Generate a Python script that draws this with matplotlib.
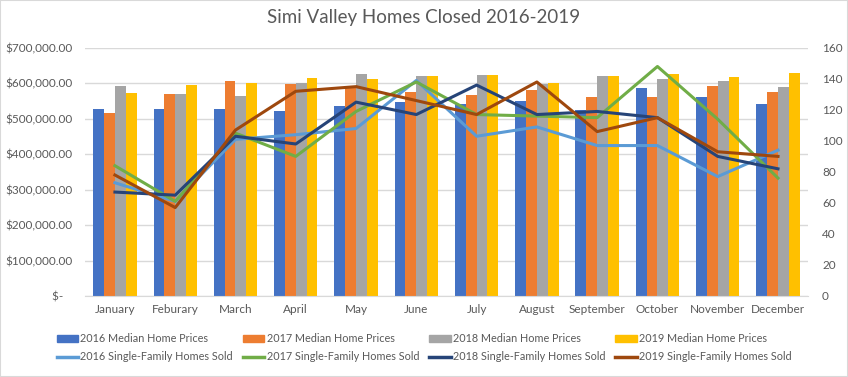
import matplotlib
matplotlib.use("Agg")
import matplotlib.pyplot as plt
import matplotlib.patches as mpatches
from matplotlib.lines import Line2D
from matplotlib.ticker import FuncFormatter, MultipleLocator
import numpy as np

plt.rcParams['font.family'] = ['Lato', 'DejaVu Sans']

months = ["January", "Feburary", "March", "April", "May", "June", "July",
          "August", "September", "October", "November", "December"]

# median home prices ($)
price_2016 = [528000, 528000, 528000, 523000, 537000, 548000, 543000, 551000, 526000, 588000, 562000, 543000]
price_2017 = [517000, 571000, 607000, 599000, 593000, 576000, 568000, 582000, 560000, 560000, 593000, 576000]
price_2018 = [593000, 571000, 565000, 602000, 627000, 622000, 624000, 599000, 622000, 613000, 607000, 591000]
price_2019 = [574000, 596000, 602000, 616000, 613000, 622000, 624000, 602000, 622000, 627000, 619000, 630000]

# single-family homes sold
sold_2016 = [73, 61, 101, 104, 108, 139, 103, 109, 97, 97, 77, 94]
sold_2017 = [84, 61, 105, 90, 119, 138, 117, 116, 115, 148, 114, 76]
sold_2018 = [67, 65, 103, 98, 125, 117, 136, 117, 119, 115, 90, 82]
sold_2019 = [78, 57, 107, 132, 135, 126, 117, 138, 106, 115, 93, 90]

bar_colors = ["#4472C4", "#ED7D31", "#A5A5A5", "#FFC000"]
line_colors = ["#5B9BD5", "#70AD47", "#264478", "#9E480E"]
years = ["2016", "2017", "2018", "2019"]
txt = "#595959"

fig = plt.figure(figsize=(8.48, 3.77), dpi=100)
ax = fig.add_axes([0.100, 0.215, 0.853, 0.658])
ax2 = ax.twinx()

x = np.arange(len(months))
w = 0.18
prices = [price_2016, price_2017, price_2018, price_2019]
solds = [sold_2016, sold_2017, sold_2018, sold_2019]

for i, (vals, c) in enumerate(zip(prices, bar_colors)):
    ax.bar(x + (i - 1.5) * w, vals, w, color=c, zorder=2)

for vals, c in zip(solds, line_colors):
    ax2.plot(x, vals, color=c, lw=2.2, zorder=3)

ax.set_xlim(-0.5, 11.5)
ax.set_ylim(0, 700000)
ax.yaxis.set_major_locator(MultipleLocator(100000))
ax.yaxis.set_major_formatter(FuncFormatter(lambda v, p: "$-   " if v == 0 else "${:,.2f}".format(v)))
ax.grid(axis='y', color="#D9D9D9", lw=1, zorder=0)
ax.set_axisbelow(True)
ax.set_xticks(x)
ax.set_xticklabels(months)
ax.tick_params(axis='both', length=0, labelsize=8.5, colors=txt, pad=6)
ax.tick_params(axis='y', pad=9)
for s in ["top", "right", "left"]:
    ax.spines[s].set_visible(False)
ax.spines["bottom"].set_color("#D9D9D9")

ax2.set_ylim(0, 160)
ax2.yaxis.set_major_locator(MultipleLocator(20))
ax2.tick_params(axis='y', length=0, labelsize=8.5, colors=txt, pad=10)
for s in ["top", "right", "left", "bottom"]:
    ax2.spines[s].set_visible(False)

fig.suptitle("Simi Valley Homes Closed 2016-2019", y=0.975, fontsize=13.5, color=txt)

handles = []
labels = []
for i in range(4):
    handles.append(mpatches.Patch(color=bar_colors[i]))
    labels.append(years[i] + " Median Home Prices")
    handles.append(Line2D([], [], color=line_colors[i], lw=2.5))
    labels.append(years[i] + " Single-Family Homes Sold")
leg = fig.legend(handles, labels, ncol=4, loc="center", bbox_to_anchor=(0.5, 0.077),
                 frameon=False, fontsize=7.8, handlelength=2.0, handleheight=0.7,
                 handletextpad=0.2, columnspacing=0.9, labelspacing=0.65)
for t in leg.get_texts():
    t.set_color(txt)

fig.add_artist(mpatches.Rectangle((0, 0), 1, 1, transform=fig.transFigure,
                                  fill=False, edgecolor="#D9D9D9", lw=1.5))

fig.savefig("out.png", dpi=100)
